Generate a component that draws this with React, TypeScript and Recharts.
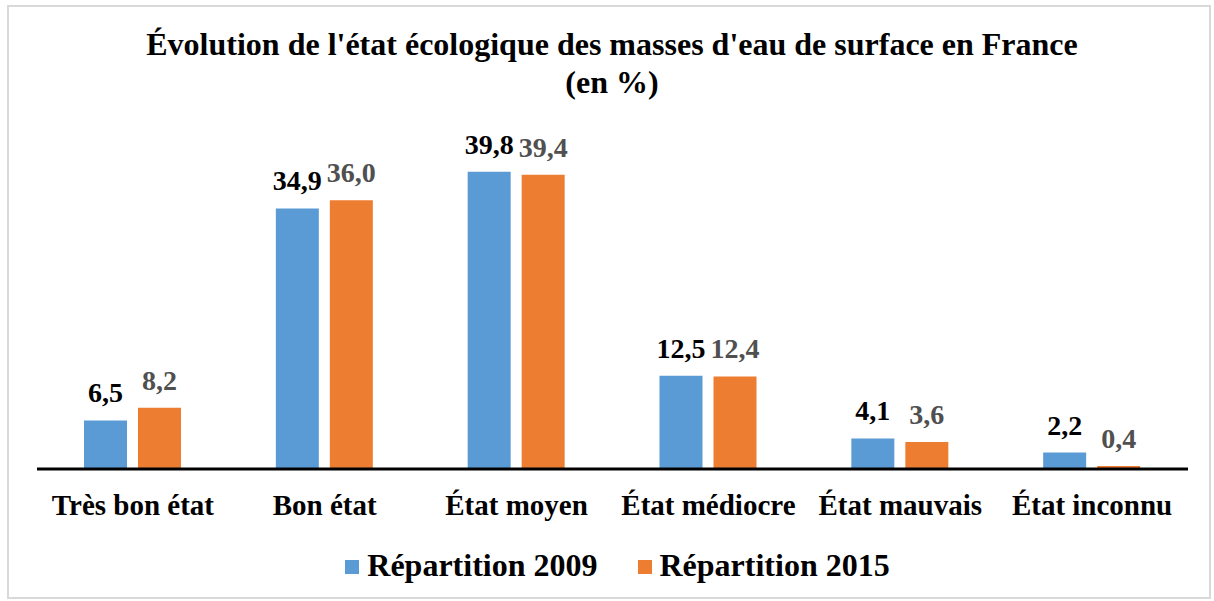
import { BarChart, Bar, XAxis, YAxis, Legend, LabelList } from "recharts";

const categories = ["Très bon état", "Bon état", "État moyen", "État médiocre", "État mauvais", "État inconnu"];
const values2009 = [6.5, 34.9, 39.8, 12.5, 4.1, 2.2];
const values2015 = [8.2, 36.0, 39.4, 12.4, 3.6, 0.4];
const seriesNames = ["Répartition 2009", "Répartition 2015"];

const data = categories.map((c, i) => ({ cat: c, a: values2009[i], b: values2015[i] }));

const FONT = '"Liberation Serif", "Times New Roman", serif';
const BLUE = "#5B9BD5";
const ORANGE = "#ED7D31";

const fmt = (v: any) => Number(v).toFixed(1).replace(".", ",");

function LegendBox() {
  const items = [
    { name: seriesNames[0], color: BLUE },
    { name: seriesNames[1], color: ORANGE },
  ];
  return (
    <div style={{ height: 72, display: "flex", justifyContent: "center", alignItems: "center", paddingLeft: 10 }}>
      {items.map((it, i) => (
        <div key={it.name} style={{ display: "flex", alignItems: "center", marginLeft: i ? 40 : 0 }}>
          <span style={{ display: "inline-block", width: 14, height: 14, background: it.color, marginRight: 8, marginTop: 4 }} />
          <span style={{ fontFamily: FONT, fontWeight: "bold", fontSize: 32, color: "#000" }}>{it.name}</span>
        </div>
      ))}
    </div>
  );
}

export default function App() {
  return (
    <div style={{ position: "absolute", left: 0, top: 0, width: 1214, height: 601, background: "#fff" }}>
      <div style={{ position: "absolute", left: 7, top: 5, width: 1200, height: 590, border: "2px solid #d9d9d9" }} />
      <div
        style={{
          position: "absolute",
          left: 10,
          top: 25,
          width: 1204,
          textAlign: "center",
          fontFamily: FONT,
          fontWeight: "bold",
          fontSize: 32,
          lineHeight: "38px",
          color: "#000",
        }}
      >
        Évolution de l'état écologique des masses d'eau de surface en France
        <br />
        (en %)
      </div>
      <div style={{ position: "absolute", left: 0, top: 0 }}>
        <BarChart
          width={1214}
          height={601}
          data={data}
          margin={{ top: 133, right: 26, bottom: 0, left: 37 }}
          barCategoryGap="24.7%"
          barGap={11}
        >
          <YAxis hide domain={[0, 45]} />
          <XAxis
            dataKey="cat"
            height={60}
            axisLine={{ stroke: "#000", strokeWidth: 3 }}
            tickLine={false}
            interval={0}
            tick={{ fontFamily: FONT, fontWeight: "bold", fontSize: 29, fill: "#000" }}
            tickMargin={19}
          />
          <Legend verticalAlign="bottom" height={72} content={() => <LegendBox />} />
          <Bar dataKey="a" name={seriesNames[0]} fill={BLUE} barSize={43} isAnimationActive={false}>
            <LabelList
              dataKey="a"
              position="top"
              offset={18}
              formatter={fmt}
              style={{ fontFamily: FONT, fontWeight: "bold", fontSize: 28, fill: "#000" }}
            />
          </Bar>
          <Bar dataKey="b" name={seriesNames[1]} fill={ORANGE} barSize={43} isAnimationActive={false}>
            <LabelList
              dataKey="b"
              position="top"
              offset={18}
              formatter={fmt}
              style={{ fontFamily: FONT, fontWeight: "bold", fontSize: 28, fill: "#505050" }}
            />
          </Bar>
        </BarChart>
      </div>
    </div>
  );
}
